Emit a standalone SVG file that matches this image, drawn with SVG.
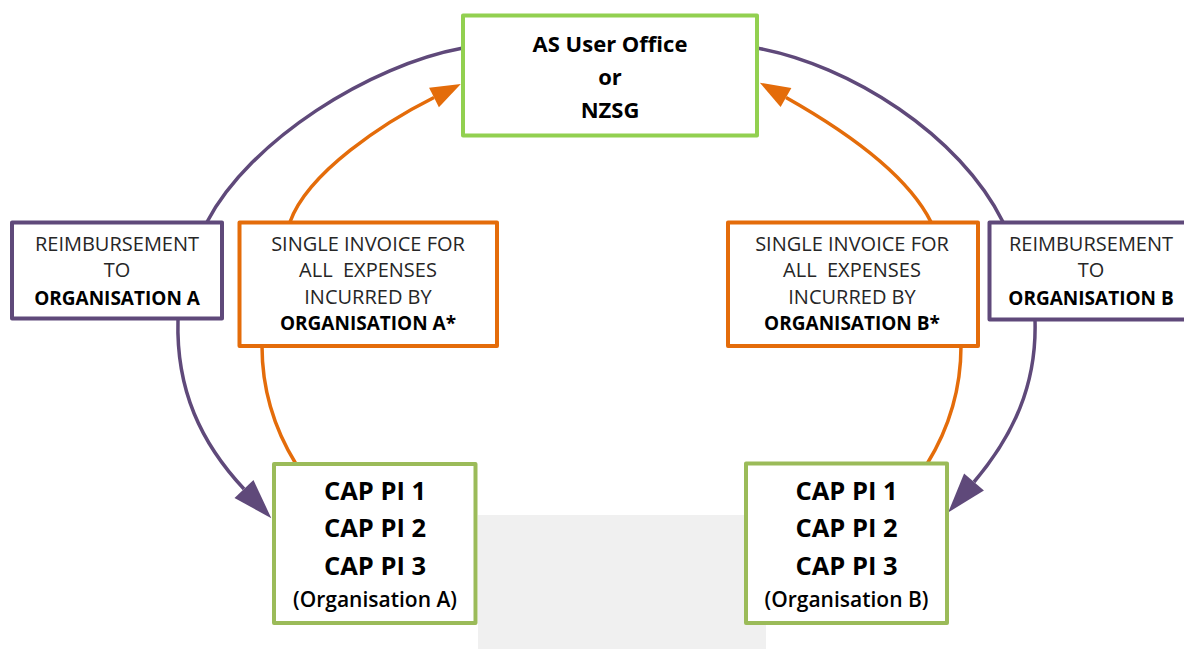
<svg xmlns="http://www.w3.org/2000/svg" width="1184" height="649" viewBox="0 0 1184 649">
<defs>
<style>
.box{fill:#fff;stroke-width:4;stroke-linejoin:round}
.green1{stroke:#92D050}
.green2{stroke:#9BBB59}
.purple{stroke:#5F497A}
.orange{stroke:#E46C0A}
.conn{fill:none;stroke-width:3.5}
.t{font-family:"Open Sans","Liberation Sans",sans-serif;text-anchor:middle}
.big{font-size:22px;font-weight:700;fill:#000}
.small{font-size:20px;font-weight:400;fill:#262626}
.sb{font-size:19px;font-weight:700;fill:#000}
.cap{font-size:25.5px;font-weight:700;fill:#000}
.org{font-size:21px;font-weight:600;fill:#000}
</style>
<marker id="arrO" markerUnits="userSpaceOnUse" markerWidth="32" markerHeight="24" refX="0" refY="12" orient="auto" overflow="visible">
<path d="M0,1 L30,12 L0,23 z" fill="#E46C0A"/>
</marker>
<marker id="arrP" markerUnits="userSpaceOnUse" markerWidth="42" markerHeight="28" refX="0" refY="14" orient="auto" overflow="visible">
<path d="M0,1 L40,14 L0,27 z" fill="#5F497A"/>
</marker>
</defs>
<rect x="478" y="515" width="288" height="134" fill="#F0F0F0"/>
<g id="connectors">
<path class="conn purple" d="M463,48 C370,65 250,140 207,222"/>
<path class="conn purple" d="M178,320 C176,390 201,443 244,489" marker-end="url(#arrP)"/>
<path class="conn orange" d="M296,464 C275,430 262,390 262,346"/>
<path class="conn orange" d="M290,222 C308,172 385,122 434,97.5" marker-end="url(#arrO)"/>
<path class="conn purple" d="M757,48 C850,65 960,135 1003,222"/>
<path class="conn purple" d="M1035,320 C1037,385 1013,436 974,482" marker-end="url(#arrP)"/>
<path class="conn orange" d="M927,464 C948,430 961,390 961,346"/>
<path class="conn orange" d="M931,222 C905,170 833,124 786,97.5" marker-end="url(#arrO)"/>
</g>
<g id="node-office">
<rect class="box green1" x="463" y="15.5" width="294" height="120"/>
<text class="t big" x="610" y="52">AS User Office</text>
<text class="t big" x="610" y="85">or</text>
<text class="t big" x="610" y="118">NZSG</text>
</g>
<g id="node-reimb-a">
<rect class="box purple" x="12" y="222.5" width="210" height="96"/>
<text class="t small" x="117" y="251">REIMBURSEMENT</text>
<text class="t small" x="117" y="277">TO</text>
<text class="t sb" x="117" y="305">ORGANISATION A</text>
</g>
<g id="node-invoice-a">
<rect class="box orange" x="239.5" y="222.5" width="257.5" height="123.5"/>
<text class="t small" x="368" y="251">SINGLE INVOICE FOR</text>
<text class="t small" x="368" y="277" xml:space="preserve">ALL  EXPENSES</text>
<text class="t small" x="368" y="304">INCURRED BY</text>
<text class="t sb" x="368" y="330">ORGANISATION A*</text>
</g>
<g id="node-invoice-b">
<rect class="box orange" x="728" y="222.5" width="250" height="123.5"/>
<text class="t small" x="852" y="251">SINGLE INVOICE FOR</text>
<text class="t small" x="852" y="277" xml:space="preserve">ALL  EXPENSES</text>
<text class="t small" x="852" y="304">INCURRED BY</text>
<text class="t sb" x="852" y="330">ORGANISATION B*</text>
</g>
<g id="node-reimb-b">
<rect class="box purple" x="989.5" y="222.5" width="210" height="97"/>
<text class="t small" x="1091" y="251">REIMBURSEMENT</text>
<text class="t small" x="1091" y="277">TO</text>
<text class="t sb" x="1091" y="305">ORGANISATION B</text>
</g>
<g id="node-cap-a">
<rect class="box green2" x="274" y="464" width="201.5" height="159"/>
<text class="t cap" x="375" y="500">CAP PI 1</text>
<text class="t cap" x="375" y="537">CAP PI 2</text>
<text class="t cap" x="375" y="575">CAP PI 3</text>
<text class="t org" x="375" y="607">(Organisation A)</text>
</g>
<g id="node-cap-b">
<rect class="box green2" x="746" y="463.5" width="201" height="159.5"/>
<text class="t cap" x="846.5" y="500">CAP PI 1</text>
<text class="t cap" x="846.5" y="537">CAP PI 2</text>
<text class="t cap" x="846.5" y="575">CAP PI 3</text>
<text class="t org" x="846.5" y="607">(Organisation B)</text>
</g>
</svg>
